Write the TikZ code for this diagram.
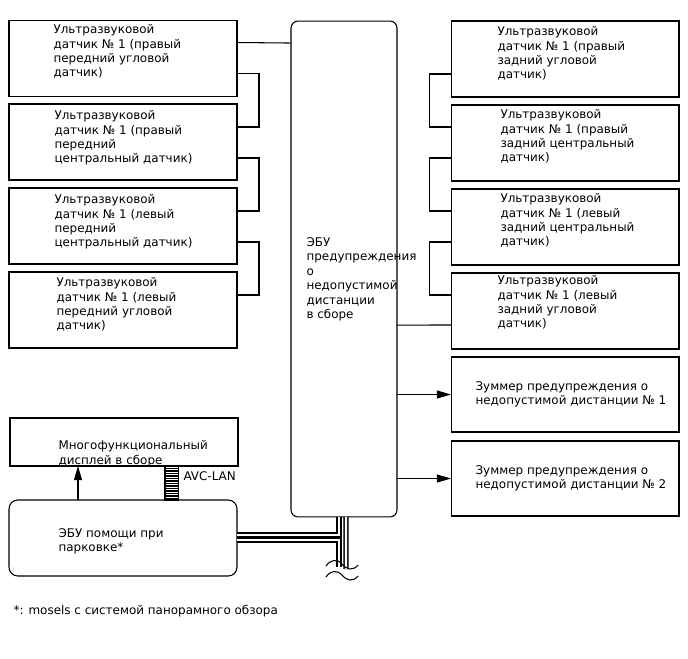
\documentclass[tikz,border=0pt]{standalone}
\usepackage{fontspec}
\setmainfont{DejaVu Sans}
\usetikzlibrary{calc,arrows.meta}

\tikzset{
  box/.style={draw, line width=0.6pt, minimum width=4.56cm, minimum height=1.52cm, inner sep=0pt, outer sep=0pt},
  lbl/.style={anchor=north west, align=left, inner sep=0pt, font=\fontsize{6.8}{8.2}\selectfont},
  arr/.style={-{Triangle[length=8pt,width=4.5pt]}},
  wire/.style={double, double distance=1.3pt, line width=0.8pt},
}

\begin{document}
\begin{tikzpicture}[x=0.02cm,y=-0.02cm,line width=0.6pt]
   \useasboundingbox (0,0) rectangle (688,658);
   % ECU
   \node[box, rounded corners=4pt, minimum width=2.12cm, minimum height=9.92cm] (ecu) at (344,269) {};
   \node[lbl] (tecu) at (306,237) {ЭБУ\\предупреждения\\о\\недопустимой\\дистанции\\в сборе};
   % front sensors
   \node[box] (s1) at (123,58.5) {};
   \node[box] (s2) at (123,142) {};
   \node[box] (s3) at (123,226) {};
   \node[box] (s4) at (123,310) {};
   \node[lbl] (ts1) at (53,24) {Ультразвуковой\\датчик № 1 (правый\\передний угловой\\датчик)};
   \node[lbl] (ts2) at (54,110) {Ультразвуковой\\датчик № 1 (правый\\передний\\центральный датчик)};
   \node[lbl] (ts3) at (54,194) {Ультразвуковой\\датчик № 1 (левый\\передний\\центральный датчик)};
   \node[lbl] (ts4) at (56,277) {Ультразвуковой\\датчик № 1 (левый\\передний угловой\\датчик)};
   % rear sensors
   \node[box] (r1) at (565,59) {};
   \node[box] (r2) at (565,143) {};
   \node[box] (r3) at (565,227) {};
   \node[box] (r4) at (565,311) {};
   \node[lbl] (tr1) at (497,26) {Ультразвуковой\\датчик № 1 (правый\\задний угловой\\датчик)};
   \node[lbl] (tr2) at (500,109) {Ультразвуковой\\датчик № 1 (правый\\задний центральный\\датчик)};
   \node[lbl] (tr3) at (500,193) {Ультразвуковой\\датчик № 1 (левый\\задний центральный\\датчик)};
   \node[lbl] (tr4) at (497,275) {Ультразвуковой\\датчик № 1 (левый\\задний угловой\\датчик)};
   % buzzers
   \node[box, minimum height=1.5cm] (z1) at (565,394.5) {};
   \node[box, minimum height=1.5cm] (z2) at (565,478.5) {};
   \node[lbl] (tz1) at (475,381) {Зуммер предупреждения о\\недопустимой дистанции № 1};
   \node[lbl] (tz2) at (475,465) {Зуммер предупреждения о\\недопустимой дистанции № 2};
   % display and parking ECU
   \node[box, minimum height=0.96cm] (disp) at (124,442) {};
   \node[lbl] (tdisp) at (58,440) {Многофункциональный\\дисплей в сборе};
   \node[box, rounded corners=5pt] (pk) at (123,538) {};
   \node[lbl] (tpk) at (58,528) {ЭБУ помощи при\\парковке*};

   % sensor lines, left
   \draw ($(s1.north east)+(0,22)$) -- ($(ecu.north west)+(0,22)$);
   \draw ($(s1.north east)+(0,53)$) -- ++(22,0) |- ($(s2.north east)+(0,23)$);
   \draw ($(s2.north east)+(0,54)$) -- ++(22,0) |- ($(s3.north east)+(0,23)$);
   \draw ($(s3.north east)+(0,54)$) -- ++(22,0) |- ($(s4.north east)+(0,23)$);
   % sensor lines, right
   \draw ($(r1.north west)+(0,53)$) -- ++(-22,0) |- ($(r2.north west)+(0,22)$);
   \draw ($(r2.north west)+(0,53)$) -- ++(-22,0) |- ($(r3.north west)+(0,22)$);
   \draw ($(r3.north west)+(0,53)$) -- ++(-22,0) |- ($(r4.north west)+(0,22)$);
   \draw ($(r4.north west)+(0,52)$) -- ($(ecu.north east)+(0,304)$);
   % buzzers
   \draw[arr] (ecu.east |- z1.west) -- (z1.west);
   \draw[arr] (ecu.east |- z2.west) -- (z2.west);

   % parking ECU to display
   \coordinate (up) at (78,500);
   \draw[arr] (up) -- (up |- disp.south);
   \draw ($(disp.south west)+(155,0)$) rectangle ($(pk.north west)+(169,0)$);
   \foreach \y in {468.5,471,...,498.5}
      \draw[line width=0.6pt] (165,\y) -- (178,\y);
   \node[lbl] (avc) at (183,471) {AVC-LAN};

   % wires to ECU
   \coordinate (brk) at (339,567);
   \coordinate (brk2) at (346,569);
   \draw[wire] ($(pk.north east)+(0,35)$) -| ($(ecu.south west)+(48,0)$);
   \draw[wire] ($(pk.north east)+(0,40)$) -| (brk);
   \draw[wire] ($(ecu.south west)+(55,0)$) -- (brk2);
   \draw (326,566) .. controls (331,559) and (337,559) .. (342,564) .. controls (347,570) and (353,571) .. (358,565);
   \draw (326,577) .. controls (331,570) and (337,570) .. (342,575) .. controls (347,581) and (353,582) .. (358,576);

   \node[lbl] (note) at (13,605) {*: mosels с системой панорамного обзора};
\end{tikzpicture}
\end{document}
